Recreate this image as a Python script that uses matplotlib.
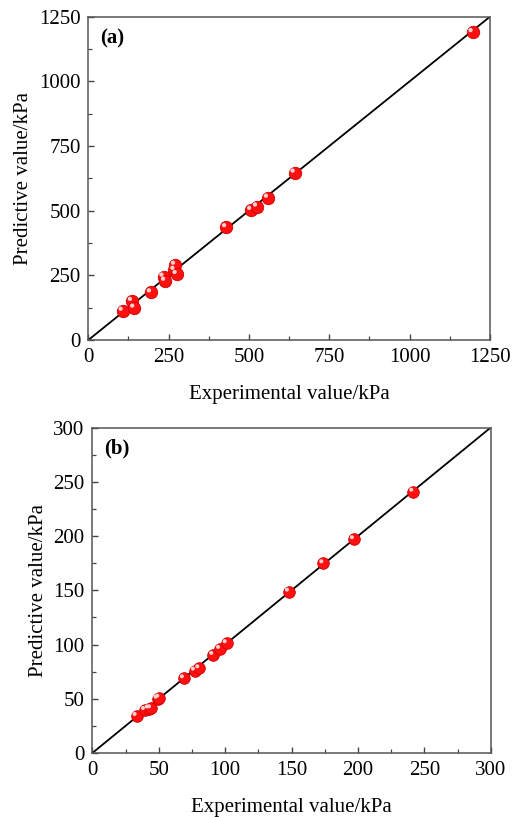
import matplotlib
matplotlib.use("Agg")
import matplotlib.pyplot as plt
import matplotlib.transforms as mtransforms
from matplotlib.ticker import MultipleLocator

plt.rcParams['font.family'] = ['Liberation Serif', 'DejaVu Serif']

# Panel (a) data
exp_a = [107, 136, 143, 195, 234, 239, 268, 270, 275, 429, 507, 525, 559, 642, 1196]
pred_a = [113, 151, 125, 184, 245, 229, 271, 291, 255, 436, 503, 516, 550, 647, 1190]

# Panel (b) data
exp_b = [33.4, 39.7, 42.5, 44.2, 49.2, 50.5, 69.0, 77.3, 80.6, 91.1, 96.2, 101.2, 148.1, 174.0, 197.0, 241.7]
pred_b = [34.1, 39.6, 41.0, 41.2, 50.0, 51.0, 68.8, 75.9, 78.0, 90.3, 95.9, 101.1, 148.7, 174.8, 197.0, 240.8]

panels = [
    dict(x=exp_a, y=pred_a, lim=1250, major=250, minor=125, label='(a)',
         rect=[0.1695, 0.5838, 0.771, 0.3958], ms=80),
    dict(x=exp_b, y=pred_b, lim=300, major=50, minor=25, label='(b)',
         rect=[0.1772, 0.0783, 0.7647, 0.3984], ms=70),
]

fig = plt.figure(figsize=(5.21, 8.17), dpi=100)

for p in panels:
    ax = fig.add_axes(p['rect'])
    lim = p['lim']
    ax.plot([0, lim], [0, lim], color='black', lw=1.3, zorder=2)
    ax.scatter(p['x'], p['y'], s=p['ms'], color='#ff1010', edgecolors='#d00000',
               linewidths=0.6, zorder=3)
    off = mtransforms.ScaledTranslation(-1.5 / 72, 1.5 / 72, fig.dpi_scale_trans)
    ax.scatter(p['x'], p['y'], s=p['ms'] * 0.12, color='#ffd0d0', edgecolors='none',
               zorder=4, transform=ax.transData + off)
    ax.set_xlim(0, lim)
    ax.set_ylim(0, lim)
    ax.xaxis.set_major_locator(MultipleLocator(p['major']))
    ax.yaxis.set_major_locator(MultipleLocator(p['major']))
    ax.xaxis.set_minor_locator(MultipleLocator(p['minor']))
    ax.yaxis.set_minor_locator(MultipleLocator(p['minor']))
    ax.tick_params(which='major', direction='in', length=4.5, width=1.0,
                   color='#444444', labelsize=15)
    ax.tick_params(axis='x', which='major', pad=6)
    ax.tick_params(axis='y', which='major', pad=5.5)
    ax.tick_params(which='minor', direction='in', length=3, width=0.9, color='#444444')
    for s in ax.spines.values():
        s.set_color('#555555')
        s.set_linewidth(1.1)
    ax.set_xlabel('Experimental value/kPa', fontsize=15, labelpad=13)
    ax.set_ylabel('Predictive value/kPa', fontsize=15, labelpad=4)
    ax.text(0.03, 0.965, p['label'], transform=ax.transAxes, fontsize=15,
            fontweight='bold', va='top', ha='left')

fig.savefig('out.png', dpi=100)
